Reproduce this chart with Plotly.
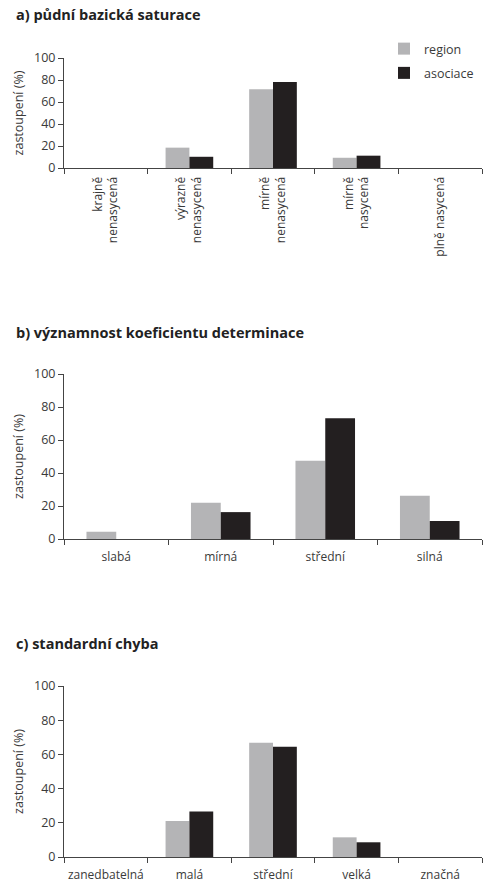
import plotly.graph_objects as go

# Panel a) půdní bazická saturace
cats_a = ["krajně<br>nenasycená", "výrazně<br>nenasycená", "mírně<br>nenasycená",
          "mírně<br>nasycená", "plně nasycená"]
region_a = [0, 18.5, 71.5, 9.3, 0]
asoc_a = [0, 10.2, 78.2, 11.2, 0]

# Panel b) významnost koeficientu determinace
cats_b = ["slabá", "mírná", "střední", "silná"]
region_b = [4.4, 22.0, 47.4, 26.2]
asoc_b = [0, 16.3, 73.2, 10.9]

# Panel c) standardní chyba
cats_c = ["zanedbatelná", "malá", "střední", "velká", "značná"]
region_c = [0, 21.1, 66.8, 11.5, 0]
asoc_c = [0, 26.6, 64.5, 8.6, 0]

titles = ["a) půdní bazická saturace", "b) významnost koeficientu determinace",
          "c) standardní chyba"]
series_names = ["region", "asociace"]
colors = ["#b4b4b6", "#231f20"]

W, H = 485, 885
FONT = "Open Sans"
TXT = "#3a3a3a"

fig = go.Figure()
panels = [(cats_a, region_a, asoc_a), (cats_b, region_b, asoc_b), (cats_c, region_c, asoc_c)]
for i, (cats, reg, aso) in enumerate(panels):
    suffix = "" if i == 0 else str(i + 1)
    for j, (name, vals) in enumerate(zip(series_names, [reg, aso])):
        fig.add_trace(go.Bar(
            x=cats, y=vals, name=name, marker=dict(color=colors[j], line=dict(width=0)),
            xaxis="x" + suffix, yaxis="y" + suffix,
            showlegend=(i == 0), legendgroup=name, hoverinfo="skip"))

# pixel geometry of plot areas (top, bottom) in px
xdom = [64 / W, 482 / W]
ydoms_px = [(58, 168), (374, 539), (686, 857)]
title_y_px = [15, 332, 643]

layout = dict(
    width=W, height=H, margin=dict(l=0, r=0, t=0, b=0, autoexpand=False),
    paper_bgcolor="white", plot_bgcolor="white",
    barmode="group", bargap=0.43, bargroupgap=0,
    font=dict(family=FONT, size=12, color=TXT),
    legend=dict(x=384 / W, xanchor="left", y=1 - 34 / H, yanchor="top",
                font=dict(size=12.5, color=TXT), tracegroupgap=5,
                bgcolor="rgba(0,0,0,0)"),
    annotations=[], showlegend=True,
)
for i, (top, bot) in enumerate(ydoms_px):
    suffix = "" if i == 0 else str(i + 1)
    xa = dict(domain=xdom, anchor="y" + suffix, showline=True, linecolor="#444",
              linewidth=1, ticks="outside", ticklen=5, tickcolor="#444",
              tickson="boundaries", showgrid=False, zeroline=False, automargin=False,
              tickfont=dict(size=12, color=TXT), fixedrange=True,
              tickangle=-90 if i == 0 else 0,
              ticklabelstandoff=3 if i == 0 else 7)
    ya = dict(domain=[1 - bot / H, 1 - top / H], anchor="x" + suffix, range=[0, 100],
              dtick=20, showline=True, linecolor="#444", linewidth=1,
              ticks="outside", ticklen=5, tickcolor="#444", showgrid=False,
              zeroline=False, automargin=False, tickfont=dict(size=12.5, color=TXT),
              title=dict(text="zastoupení (%)", font=dict(size=12.5, color=TXT), standoff=7),
              fixedrange=True)
    layout["xaxis" + suffix] = xa
    layout["yaxis" + suffix] = ya
    layout["annotations"].append(dict(
        text="<b>" + titles[i] + "</b>", x=14 / W, y=1 - title_y_px[i] / H,
        xref="paper", yref="paper", xanchor="left", yanchor="middle",
        showarrow=False, font=dict(size=14.5, color="#222", family=FONT)))

fig.update_layout(**layout)
fig.write_html("out.html", post_script="document.body.style.margin='0';",
               config={"displayModeBar": False})
